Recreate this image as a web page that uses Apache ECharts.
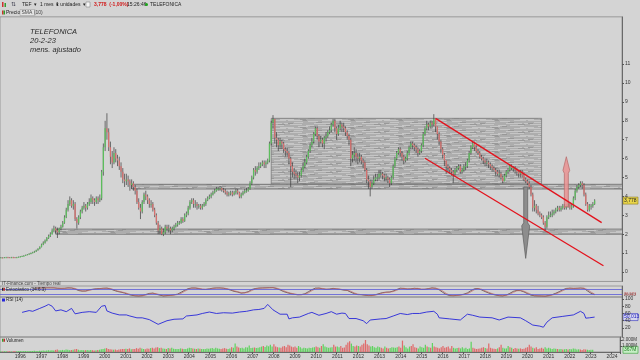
<!DOCTYPE html>
<html><head><meta charset="utf-8">
<script src="https://cdn.jsdelivr.net/npm/echarts@6/dist/echarts.min.js"></script>
<style>html,body{margin:0;padding:0;background:#d4d4d4;}#c{width:640px;height:360px;}</style>
</head><body><div id="c"></div>
<script>
// ---------------- DATA (monthly, 1995-02 .. 2023-02) ----------------
const firstMonth = '1995-02';
const lastCategory = '2024-05';
const closes = [
 0.76,0.75,0.77,0.78,0.77,0.76,0.78,0.77,0.76,0.78,0.80,
 0.82,0.84,0.86,0.90,0.93,0.96,1.00,1.04,1.08,1.15,1.22,1.32,
 1.45,1.55,1.65,1.80,1.90,2.00,2.20,2.30,2.20,2.10,2.30,2.40,
 2.60,2.90,3.30,3.60,3.80,3.50,3.60,2.80,2.60,2.90,3.20,3.40,
 3.50,3.40,3.60,3.70,3.90,3.80,3.70,3.90,3.80,3.90,5.30,6.60,
 7.60,7.40,6.60,6.10,5.80,6.30,6.00,5.90,5.60,5.30,4.90,4.80,
 4.90,4.80,4.60,4.70,4.50,4.30,3.70,3.40,3.20,3.70,4.10,4.00,
 3.80,3.60,3.60,3.30,3.00,2.60,2.20,2.30,2.00,2.10,2.40,2.30,
 2.30,2.20,2.30,2.40,2.50,2.60,2.60,2.80,2.70,3.00,3.10,3.40,
 3.70,3.80,3.60,3.60,3.50,3.50,3.40,3.50,3.60,3.80,3.90,4.00,
 4.10,4.20,4.30,4.40,4.40,4.45,4.35,4.30,4.20,4.10,4.15,4.20,
 4.10,4.20,4.30,4.20,4.00,4.10,4.20,4.30,4.30,4.40,4.70,5.00,
 5.40,5.30,5.50,5.60,5.70,5.80,5.70,5.80,5.90,6.80,7.90,8.10,
 7.10,7.00,6.70,6.90,6.80,6.50,6.40,6.30,6.00,5.60,5.30,5.20,
 5.10,5.00,5.10,5.40,5.60,5.80,6.10,6.40,6.70,6.90,7.30,7.60,
 7.20,6.90,7.00,6.80,7.10,7.20,7.40,7.50,7.80,8.00,7.60,7.30,
 7.60,7.80,7.70,7.60,7.40,7.20,7.00,6.00,6.20,6.30,6.10,6.00,
 6.10,5.90,5.80,5.40,4.90,4.80,4.50,4.70,4.90,5.00,5.00,5.20,
 5.20,5.10,5.00,5.00,4.90,4.70,5.00,5.60,6.00,6.30,6.50,6.30,
 6.10,5.90,6.00,6.30,6.60,6.80,6.70,6.60,6.50,6.30,6.40,6.70,
 7.30,7.60,7.80,7.70,7.90,7.80,8.10,7.70,7.30,6.90,6.50,6.20,
 5.90,5.60,5.50,5.40,5.30,5.20,5.40,5.50,5.60,5.30,5.40,5.60,
 5.60,5.90,6.30,6.60,6.80,6.60,6.40,6.30,6.10,6.00,5.90,5.80,
 5.80,5.70,5.60,5.50,5.40,5.30,5.20,5.20,5.00,4.80,5.10,5.30,
 5.40,5.60,5.50,5.50,5.40,5.30,5.20,5.30,5.10,4.90,4.80,4.70,
 4.50,4.10,3.40,3.50,3.30,3.10,3.00,2.90,2.60,2.40,2.90,3.00,
 3.00,3.10,3.20,3.30,3.40,3.30,3.40,3.50,3.40,3.50,3.60,3.40,
 3.50,3.90,4.30,4.50,4.60,4.70,4.60,4.10,3.60,3.30,3.50,3.50,
 3.60,3.778
];
const highs = [
 0.79,0.78,0.79,0.80,0.80,0.79,0.80,0.80,0.79,0.80,0.82,
 0.84,0.86,0.89,0.92,0.95,0.99,1.03,1.07,1.12,1.18,1.26,1.36,
 1.50,1.62,1.72,1.85,1.98,2.10,2.30,2.45,2.40,2.35,2.35,2.50,
 2.70,3.00,3.40,3.80,4.00,3.90,3.80,3.70,2.90,3.00,3.30,3.50,
 3.70,3.60,3.70,3.90,4.10,4.00,3.90,4.00,4.00,4.10,5.40,6.80,
 8.00,8.40,7.60,6.90,6.40,6.60,6.50,6.20,6.10,5.80,5.50,5.20,
 5.20,5.10,4.90,4.90,4.80,4.60,4.40,3.90,3.60,3.80,4.20,4.30,
 4.10,3.90,3.80,3.70,3.40,3.10,2.70,2.50,2.40,2.30,2.50,2.50,
 2.50,2.40,2.40,2.50,2.60,2.70,2.70,2.90,2.90,3.10,3.20,3.50,
 3.80,3.90,3.90,3.80,3.70,3.60,3.60,3.60,3.70,3.90,4.00,4.10,
 4.20,4.30,4.40,4.50,4.50,4.55,4.50,4.45,4.40,4.30,4.25,4.30,
 4.30,4.30,4.40,4.40,4.25,4.20,4.30,4.40,4.45,4.50,4.80,5.10,
 5.50,5.60,5.60,5.80,5.80,5.90,5.90,5.90,6.00,6.90,8.00,8.30,
 8.10,7.40,7.10,7.10,7.00,6.90,6.60,6.60,6.40,6.10,5.80,5.50,
 5.40,5.30,5.30,5.50,5.80,6.00,6.20,6.50,6.80,7.10,7.40,7.70,
 7.70,7.30,7.20,7.10,7.20,7.40,7.50,7.70,7.90,8.10,8.10,7.70,
 7.80,8.00,7.90,7.90,7.70,7.50,7.30,7.10,6.40,6.60,6.50,6.30,
 6.30,6.20,6.00,5.90,5.50,5.10,4.90,4.90,5.10,5.20,5.20,5.40,
 5.40,5.30,5.20,5.20,5.10,5.00,5.10,5.70,6.10,6.40,6.60,6.60,
 6.40,6.20,6.10,6.40,6.70,6.90,6.90,6.80,6.70,6.60,6.50,6.80,
 7.40,7.70,8.00,7.90,8.00,8.00,8.35,8.10,7.70,7.40,7.00,6.60,
 6.30,5.90,5.70,5.60,5.50,5.40,5.50,5.60,5.70,5.70,5.50,5.70,
 5.80,6.00,6.40,6.70,6.90,6.90,6.70,6.50,6.40,6.20,6.10,6.00,
 6.00,5.90,5.80,5.70,5.60,5.50,5.40,5.40,5.30,5.10,5.20,5.40,
 5.50,5.70,5.70,5.60,5.60,5.50,5.40,5.40,5.40,5.20,5.00,4.90,
 4.80,4.60,4.20,3.80,3.60,3.50,3.20,3.10,3.00,2.70,3.00,3.20,
 3.20,3.30,3.30,3.40,3.50,3.50,3.50,3.60,3.60,3.60,3.70,3.70,
 3.60,4.00,4.40,4.60,4.70,4.80,4.80,4.70,4.20,3.70,3.60,3.60,
 3.70,3.85
];
const lows = [
 0.74,0.73,0.74,0.76,0.75,0.74,0.75,0.75,0.74,0.75,0.77,
 0.79,0.81,0.83,0.85,0.89,0.92,0.94,0.99,1.02,1.06,1.13,1.20,
 1.30,1.42,1.50,1.62,1.75,1.85,1.98,2.10,2.05,1.80,2.00,2.20,
 2.35,2.55,2.85,3.20,3.50,3.40,3.30,2.70,2.30,2.50,2.80,3.10,
 3.30,3.20,3.30,3.50,3.60,3.60,3.50,3.60,3.60,3.70,3.80,5.10,
 6.40,7.00,6.40,5.70,5.50,5.70,5.80,5.60,5.40,5.00,4.70,4.50,
 4.60,4.50,4.30,4.40,4.30,4.10,3.60,3.30,2.80,3.10,3.60,3.80,
 3.60,3.40,3.40,3.20,2.90,2.50,2.00,2.00,1.95,1.90,2.00,2.20,
 2.10,2.00,2.10,2.20,2.35,2.40,2.50,2.55,2.60,2.65,2.90,3.00,
 3.30,3.60,3.40,3.40,3.30,3.35,3.30,3.30,3.45,3.50,3.75,3.85,
 3.90,4.05,4.15,4.25,4.30,4.30,4.25,4.20,4.10,4.00,4.00,4.05,
 4.00,4.05,4.10,4.10,3.90,3.90,4.05,4.15,4.20,4.25,4.35,4.60,
 4.90,5.10,5.20,5.40,5.50,5.60,5.50,5.50,5.70,5.80,6.70,7.60,
 6.80,6.60,6.40,6.50,6.50,6.30,6.10,6.10,5.70,4.50,5.00,4.90,
 4.90,4.70,4.80,5.00,5.30,5.50,5.70,6.00,6.30,6.60,6.80,7.20,
 7.00,6.60,6.80,6.60,6.50,6.90,7.10,7.30,7.40,7.70,7.40,7.00,
 7.20,7.50,7.40,7.40,7.20,7.00,6.70,5.60,5.80,5.90,5.80,5.70,
 5.80,5.70,5.50,5.30,4.70,4.40,4.00,4.40,4.60,4.80,4.80,4.90,
 5.00,4.90,4.80,4.80,4.70,4.50,4.60,4.90,5.50,5.90,6.20,6.10,
 5.90,5.70,5.80,5.90,6.20,6.50,6.50,6.40,6.30,6.10,6.20,6.30,
 6.60,7.20,7.50,7.50,7.60,7.60,7.70,7.40,7.00,6.70,6.30,6.00,
 5.60,5.20,5.30,5.20,5.10,4.70,5.10,5.30,5.40,5.20,5.20,5.30,
 5.40,5.50,5.80,6.20,6.50,6.40,6.30,6.20,6.00,5.90,5.70,5.60,
 5.60,5.50,5.40,5.30,5.30,5.10,5.10,5.00,4.90,4.70,4.80,5.00,
 5.20,5.30,5.40,5.30,5.20,5.10,5.00,5.00,5.00,4.80,4.70,4.60,
 4.40,4.00,3.20,3.20,3.10,3.00,2.90,2.80,2.50,2.20,2.30,2.80,
 2.90,2.90,3.00,3.10,3.20,3.20,3.20,3.30,3.30,3.30,3.40,3.30,
 3.30,3.40,3.80,4.20,4.40,4.50,4.40,4.00,3.50,3.20,3.20,3.30,
 3.40,3.55
];
// volume in millions of shares
const volumes = [
 120,100,130,110,140,120,100,130,150,120,140,
 150,130,170,160,140,180,150,170,200,180,160,210,
 200,240,220,260,300,250,280,230,350,400,300,280,
 350,300,420,380,300,330,360,450,500,380,300,320,
 280,300,320,280,350,300,270,300,330,380,450,520,
 600,650,500,450,400,380,420,350,400,450,500,480,
 550,500,600,450,500,480,650,550,700,600,500,450,
 600,550,650,700,600,750,800,650,700,600,550,500,
 650,600,700,550,500,480,520,600,550,500,480,600,
 700,650,600,550,500,600,550,500,480,520,600,550,
 600,650,550,700,600,550,500,600,650,550,500,600,
 800,700,1400,900,750,650,700,600,800,750,1100,650,
 700,750,650,700,800,900,1000,850,1100,950,1200,900,
 1300,900,800,750,700,900,1000,800,1200,1100,900,800,
 900,700,1000,800,600,700,650,600,700,650,750,800,
 900,800,700,1000,1300,900,800,700,750,800,1200,900,
 900,800,1000,700,750,1200,1600,1800,1400,1000,900,1100,
 1000,900,1200,1400,2000,1300,1100,900,1000,800,700,900,
 800,700,600,900,700,600,650,800,750,700,800,900,
 700,1900,1100,800,600,900,1000,1300,800,700,600,900,
 800,700,1200,900,800,700,1500,900,800,700,600,800,
 1000,700,800,900,600,1000,700,600,650,700,600,800,
 600,700,500,600,1700,700,600,500,550,600,700,800,
 650,600,1400,700,600,550,500,600,800,1200,700,600,
 600,1000,800,700,500,650,600,550,600,500,550,700,
 800,1200,900,700,600,800,500,600,700,550,800,600,
 700,600,500,600,550,500,450,500,400,450,500,400,
 500,450,600,550,400,450,400,350,450,400,380,350,
 380,367
];
// RSI (14): [month, value]
const rsiPoints = [
 ['1996-02',63],['1996-06',68],['1996-08',66],['1996-12',74],['1997-03',80],['1997-05',85],['1997-07',80],['1997-09',67],
 ['1997-12',70],['1998-03',65],['1998-06',74],['1998-08',59],['1998-12',63],['1999-04',65],['1999-08',63],['1999-09',64],
 ['1999-11',80],['2000-01',82],['2000-02',67],['2000-05',61],['2000-09',56],['2001-01',56],['2001-03',53],['2001-07',48],
 ['2001-10',48],['2002-02',43],['2002-07',30],['2002-12',40],['2003-04',44],['2003-09',45],['2003-11',53],['2004-05',56],
 ['2004-08',60],['2004-12',64],['2005-04',60],['2005-08',62],['2006-01',61],['2006-05',64],['2006-09',66],['2007-01',70],
 ['2007-04',71],['2007-07',74],['2007-09',85],['2007-10',85],['2007-12',70],['2008-04',58],['2008-08',58],['2008-09',45],
 ['2008-11',48],['2009-03',50],['2009-08',60],['2009-10',63],['2010-02',55],['2010-06',60],['2010-09',65],['2010-12',58],
 ['2011-03',61],['2011-05',60],['2011-07',46],['2011-11',46],['2012-03',40],['2012-05',32],['2012-07',42],['2013-01',45],
 ['2013-04',46],['2013-08',53],['2013-12',60],['2014-04',57],['2014-07',60],['2014-11',60],['2015-03',64],['2015-07',66],
 ['2015-09',58],['2015-10',48],['2016-04',45],['2016-10',42],['2017-02',58],['2017-05',55],['2017-09',50],['2018-04',48],
 ['2018-08',42],['2019-01',50],['2019-08',48],['2019-11',40],['2020-03',28],['2020-07',25],['2020-09',22],['2020-11',36],
 ['2021-02',48],['2021-08',52],['2022-02',56],['2022-06',66],['2022-08',60],['2022-09',47],['2022-11',48],['2023-02',50.013]
];
// drawn zones: [from month, to month, low price, high price]
const zoneBoxes = [['2007-11','2020-07',4.66,8.13]];
const zoneBands = [['2001-04',lastCategory,4.39,4.64],['1997-09',lastCategory,2.00,2.27]];
// trend lines: [[month, price],[month, price]]
const trendLines = [[['2015-08',8.13],['2023-06',2.61]], [['2015-02',6.02],['2023-07',0.33]]];
// arrows: [month, base price, head price, tip price]
const downArrows = [['2019-11',4.50,2.60,0.72]];
const upArrows = [['2021-10',3.45,5.22,6.10]];
// axis ticks
const priceTicks = [0,1,2,3,4,5,6,7,8,9,10,11];
const rsiTicks = [20,40,60,80,100];
const volTicks = [1000,2000];
const stochLevels = [20,80];

// ---------------- helpers ----------------
const FONT = 'Liberation Sans';
function monthIndex(s){ const p=s.split('-').map(Number); const f=firstMonth.split('-').map(Number); return (p[0]-f[0])*12+(p[1]-f[1]); }
const nCat = monthIndex(lastCategory)+1;
const categories = [];
for(let i=0;i<nCat;i++){ const f=firstMonth.split('-').map(Number); const t=f[0]*12+(f[1]-1)+i; const y=Math.floor(t/12), m=t%12+1; categories.push(y+'-'+(m<10?'0':'')+m); }
const opens = closes.map((c,i)=> i===0 ? c : closes[i-1]);
const candleData = closes.map((c,i)=>[i, opens[i], c, lows[i], highs[i]]);
const UP='#5cbd5c', DOWN='#d8706e';

function sma(arr,n){ return arr.map((v,i)=>{ if(i<n-1) return '-'; let s=0; for(let k=i-n+1;k<=i;k++){ if(arr[k]==='-') return '-'; s+=arr[k]; } return s/n; }); }
const rawK = closes.map((c,i)=>{ if(i<13) return '-'; let hh=-1e9, ll=1e9; for(let k=i-13;k<=i;k++){ hh=Math.max(hh,highs[k]); ll=Math.min(ll,lows[k]); } return (c-ll)/(hh-ll)*100; });
const stochK = sma(rawK,6);
const stochD = sma(stochK,3);

// texture for zones
function makePattern(){
  const cv=document.createElement('canvas'); cv.width=48; cv.height=8; const g=cv.getContext('2d');
  g.fillStyle='#adadad'; g.fillRect(0,0,48,8);
  g.fillStyle='#c6c6c6';
  [[0,0,14],[20,1,10],[34,0,12],[6,2,9],[26,3,16],[2,4,12],[18,5,8],[30,5,14],[10,6,10],[40,7,8],[0,7,6],[44,3,4]].forEach(d=>g.fillRect(d[0],d[1],d[2],1));
  g.fillStyle='#989898';
  [[15,0,4],[28,2,6],[0,3,5],[38,4,7],[22,6,5],[12,7,6]].forEach(d=>g.fillRect(d[0],d[1],d[2],1));
  return cv;
}
const pattern = {image: makePattern(), repeat:'repeat'};

function zoneRender(borderCol){
  return function(params, api){
    const p1=api.coord([api.value(0), api.value(3)]), p2=api.coord([api.value(1), api.value(2)]);
    return {type:'rect', shape:{x:p1[0], y:p1[1], width:p2[0]-p1[0], height:p2[1]-p1[1]},
      style:{fill:pattern, stroke:borderCol, lineWidth:0.8}};
  };
}
function zoneData(list){ return list.map(z=>[monthIndex(z[0])-0.5, monthIndex(z[1])+0.5, z[2], z[3]]); }

function arrowRender(kind){
  return function(params, api){
    const i=api.value(0);
    const b=api.coord([i,api.value(1)]), h=api.coord([i,api.value(2)]), t=api.coord([i,api.value(3)]);
    const cx=b[0];
    const dir = kind==='down' ? 1 : -1;
    const sw = 2, hw = kind==='down' ? 4 : 3.4;
    const pts=[[cx-sw,b[1]],[cx+sw,b[1]],[cx+sw,h[1]],[cx+hw,h[1]+dir*3],[cx,t[1]],[cx-hw,h[1]+dir*3],[cx-sw,h[1]]];
    return {type:'polygon', shape:{points:pts},
      style: kind==='down' ? {fill:'#8d8d8d', stroke:'#5e5e5e', lineWidth:0.7}
                           : {fill:'rgba(232,150,150,0.9)', stroke:'#b46868', lineWidth:0.7}};
  };
}

function candleRender(params, api){
  const i=api.value(0), o=api.value(1), c=api.value(2), l=api.value(3), h=api.value(4);
  const pO=api.coord([i,o]), pC=api.coord([i,c]), pL=api.coord([i,l]), pH=api.coord([i,h]);
  const w=Math.max(1, api.size([1,0])[0]*0.72);
  const top=Math.min(pO[1],pC[1]), bot=Math.max(pO[1],pC[1]);
  const up=c>=o;
  return {type:'group', children:[
    {type:'line', shape:{x1:pH[0],y1:pH[1],x2:pL[0],y2:pL[1]}, style:{stroke:'#3a3a3a', lineWidth:0.7}},
    {type:'rect', shape:{x:pC[0]-w/2, y:top, width:w, height:Math.max(bot-top,0.9)}, style:{fill: up?UP:DOWN}}
  ]};
}

const gridBase = {left:0, right:18, show:true, borderColor:'#8a8a8a', borderWidth:0.8};
const xAxes=[0,1,2,3].map(g=>({type:'category', gridIndex:g, data:categories, boundaryGap:true,
  axisLine:{show:g===3, lineStyle:{color:'#555', width:0.8}},
  axisTick:{show:g===3, interval:(i,v)=>v.endsWith('-01'), length:2, lineStyle:{color:'#555'}},
  axisLabel:{show:g===3, interval:(i,v)=>v.endsWith('-01'), formatter:v=>v.slice(0,4), fontSize:5, color:'#333', margin:2, fontFamily:FONT},
  splitLine:{show:false}}));
const yCommon = {type:'value', position:'right', splitLine:{show:false},
  axisLine:{show:true, lineStyle:{color:'#555', width:0.8}},
  axisTick:{show:true, length:2, lineStyle:{color:'#555'}}};

const option = {
  backgroundColor:'#d4d4d4',
  animation:false,
  grid:[
    Object.assign({top:16.85, height:264.6}, gridBase),
    Object.assign({top:286, height:11}, gridBase),
    Object.assign({top:297, height:40}, gridBase),
    Object.assign({top:337, height:15}, gridBase)
  ],
  xAxis:xAxes,
  yAxis:[
    Object.assign({}, yCommon, {gridIndex:0, min:-0.5, max:13.5,
      axisTick:{show:true, length:2, customValues:priceTicks, lineStyle:{color:'#555'}},
      axisLabel:{customValues:priceTicks, fontSize:5, color:'#333', margin:3, fontFamily:FONT}}),
    Object.assign({}, yCommon, {gridIndex:1, min:-4, max:112, axisTick:{show:false}, axisLabel:{show:false}}),
    Object.assign({}, yCommon, {gridIndex:2, min:-5, max:105.5,
      axisTick:{show:true, length:2, customValues:rsiTicks, lineStyle:{color:'#555'}},
      axisLabel:{customValues:rsiTicks, fontSize:5, color:'#333', margin:3, fontFamily:FONT}}),
    Object.assign({}, yCommon, {gridIndex:3, min:0, max:2500,
      axisTick:{show:true, length:2, customValues:volTicks, lineStyle:{color:'#555'}},
      axisLabel:{customValues:volTicks, fontSize:4.5, color:'#333', margin:2, fontFamily:FONT,
        formatter:v=> (v/1000).toFixed(3) + 'M'}})
  ],
  series:[
    {type:'custom', name:'zones', xAxisIndex:0, yAxisIndex:0, renderItem:zoneRender('#7a7a7a'), data:zoneData(zoneBoxes), encode:{x:[0,1], y:[2,3]}, clip:true, z:1, silent:true},
    {type:'custom', name:'bands', xAxisIndex:0, yAxisIndex:0, renderItem:zoneRender('#666'), data:zoneData(zoneBands), encode:{x:[0,1], y:[2,3]}, clip:true, z:1, silent:true},
    {type:'custom', name:'Precio', xAxisIndex:0, yAxisIndex:0, renderItem:candleRender, data:candleData, encode:{x:0, y:[1,2,3,4]}, clip:true, z:3},
    ...trendLines.map(tl=>({type:'line', xAxisIndex:0, yAxisIndex:0, data:tl.map(p=>[monthIndex(p[0]), p[1]]), symbol:'none', lineStyle:{color:'#e3121c', width:1.3}, z:5, silent:true})),
    {type:'custom', xAxisIndex:0, yAxisIndex:0, renderItem:arrowRender('down'), data:downArrows.map(a=>[monthIndex(a[0]),a[1],a[2],a[3]]), encode:{x:0,y:[1,2,3]}, z:4, silent:true},
    {type:'custom', xAxisIndex:0, yAxisIndex:0, renderItem:arrowRender('up'), data:upArrows.map(a=>[monthIndex(a[0]),a[1],a[2],a[3]]), encode:{x:0,y:[1,2,3]}, z:4, silent:true},
    // stochastic
    {type:'line', xAxisIndex:1, yAxisIndex:1, data:stochK, symbol:'none', lineStyle:{color:'#4a3030', width:0.7},
      markLine:{silent:true, symbol:'none', label:{show:false}, lineStyle:{color:'#5a5ad8', width:0.8, type:'solid'}, data:stochLevels.map(v=>({yAxis:v}))}},
    {type:'line', xAxisIndex:1, yAxisIndex:1, data:stochD, symbol:'none', lineStyle:{color:'#c06a6a', width:0.7}},
    // RSI
    {type:'line', xAxisIndex:2, yAxisIndex:2, data:rsiPoints.map(p=>[monthIndex(p[0]), p[1]]), symbol:'none', lineStyle:{color:'#2626d9', width:0.9}},
    // volume
    {type:'bar', xAxisIndex:3, yAxisIndex:3, barWidth:'70%',
      data:volumes.map((v,i)=>({value:v, itemStyle:{color: closes[i]>=opens[i] ? '#5fd35f' : '#e06a6a'}}))}
  ]
};

const chart = echarts.init(document.getElementById('c'));
chart.setOption(option);

// ---------------- texts / value labels ----------------
function fmt(v,d){ return v.toFixed(d).replace('.', ','); }
const lastI = closes.length-1;
const lastRsi = rsiPoints[rsiPoints.length-1][1];
const yPrice = chart.convertToPixel({yAxisIndex:0}, closes[lastI]);
const yRsi = chart.convertToPixel({yAxisIndex:2}, lastRsi);
const yVol = chart.convertToPixel({yAxisIndex:3}, volumes[lastI]);
const yK = chart.convertToPixel({yAxisIndex:1}, stochK[lastI]);
const yD = chart.convertToPixel({yAxisIndex:1}, stochD[lastI]);
function t(x,y,text,opt){ return {type:'text', x:x, y:y, z:20, style:Object.assign({text:text, fontSize:5, fontFamily:FONT, fill:'#222', verticalAlign:'middle'}, opt||{})}; }
function valueBox(y,text,fill,stroke,color){
  return {type:'group', x:623, y:y, z:30, children:[
    {type:'rect', shape:{x:0,y:-3.5,width:15,height:7}, style:{fill:fill, stroke:stroke, lineWidth:0.6}},
    {type:'text', x:1, y:0, style:{text:text, fontSize:5, fontFamily:FONT, fill:color, verticalAlign:'middle'}}
  ]};
}
const graphics = [
  // toolbar
  {type:'rect', shape:{x:2,y:2,width:1.5,height:5}, style:{fill:'#d03030'}, z:20},
  {type:'rect', shape:{x:4.5,y:3,width:1.5,height:4}, style:{fill:'#30a030'}, z:20},
  t(11,4.5,'⇅',{fontSize:6, fill:'#445'}),
  t(22,4.5,'TEF  ▾'),
  t(40,4.5,'1 mes  ▾'),
  t(56,4.5,'1 unidades  ▾'),
  {type:'rect', shape:{x:86,y:2,width:4,height:5}, style:{fill:'#f4f4f4', stroke:'#777', lineWidth:0.5}, z:20},
  t(94,4.5,'3,778  (-1,00%)',{fill:'#d01818', fontWeight:'bold'}),
  t(127,4.5,'15:26:46',{fill:'#222'}),
  {type:'circle', shape:{cx:146.5,cy:4.5,r:1.5}, style:{fill:'#1aa51a'}, z:20},
  t(150,4.5,'TELEFONICA'),
  // legend row
  {type:'rect', shape:{x:2,y:10.5,width:1.5,height:4}, style:{fill:'#d03030'}, z:20},
  {type:'rect', shape:{x:3.5,y:10.5,width:1.5,height:4}, style:{fill:'#30a030'}, z:20},
  t(6,12.5,'Precio'),
  {type:'rect', shape:{x:20,y:9.5,width:15,height:6}, style:{fill:'#e4e4e4', stroke:'#999', lineWidth:0.5}, z:20},
  t(21.5,12.5,'SMA (10)',{fill:'#444'}),
  // annotation
  t(30,32,'TELEFONICA',{fontSize:7.5, fontStyle:'italic', fill:'#2a2a2a'}),
  t(30,41,'20-2-23',{fontSize:7.5, fontStyle:'italic', fill:'#2a2a2a'}),
  t(30,49.5,'mens. ajustado',{fontSize:7.5, fontStyle:'italic', fill:'#2a2a2a'}),
  // panel headers
  t(2,283.5,'IT-Finance.com - Tiempo real',{fontSize:4.5, fill:'#444'}),
  {type:'rect', shape:{x:2,y:287.8,width:1.5,height:3}, style:{fill:'#222'}, z:20},
  {type:'rect', shape:{x:3.5,y:287.8,width:1.5,height:3}, style:{fill:'#c03030'}, z:20},
  t(6,289.3,'Estocástico (14.6.3)',{fontSize:4.5}),
  {type:'rect', shape:{x:2,y:298.5,width:3,height:3}, style:{fill:'#2626d9'}, z:20},
  t(6,300,'RSI (14)',{fontSize:4.5}),
  {type:'rect', shape:{x:2,y:338.8,width:1.5,height:3}, style:{fill:'#30a030'}, z:20},
  {type:'rect', shape:{x:3.5,y:338.8,width:1.5,height:3}, style:{fill:'#c03030'}, z:20},
  t(6,340.3,'Volumen',{fontSize:4.5}),
  // right value labels
  valueBox(yPrice, fmt(closes[lastI],3), '#e9d54a', '#8a7a20', '#222'),
  valueBox(yRsi, fmt(lastRsi,3), '#d6d6ee', '#3030c0', '#2020c0'),
  valueBox(yVol, volumes[lastI]+'M', '#c6eec6', '#30a030', '#208020'),
  t(624,yK,fmt(stochK[lastI],3),{fontSize:4, fill:'#5a3030'}),
  t(624,yD,fmt(stochD[lastI],3),{fontSize:4, fill:'#c04040'})
];
chart.setOption({graphic:graphics});
</script>
</body></html>
